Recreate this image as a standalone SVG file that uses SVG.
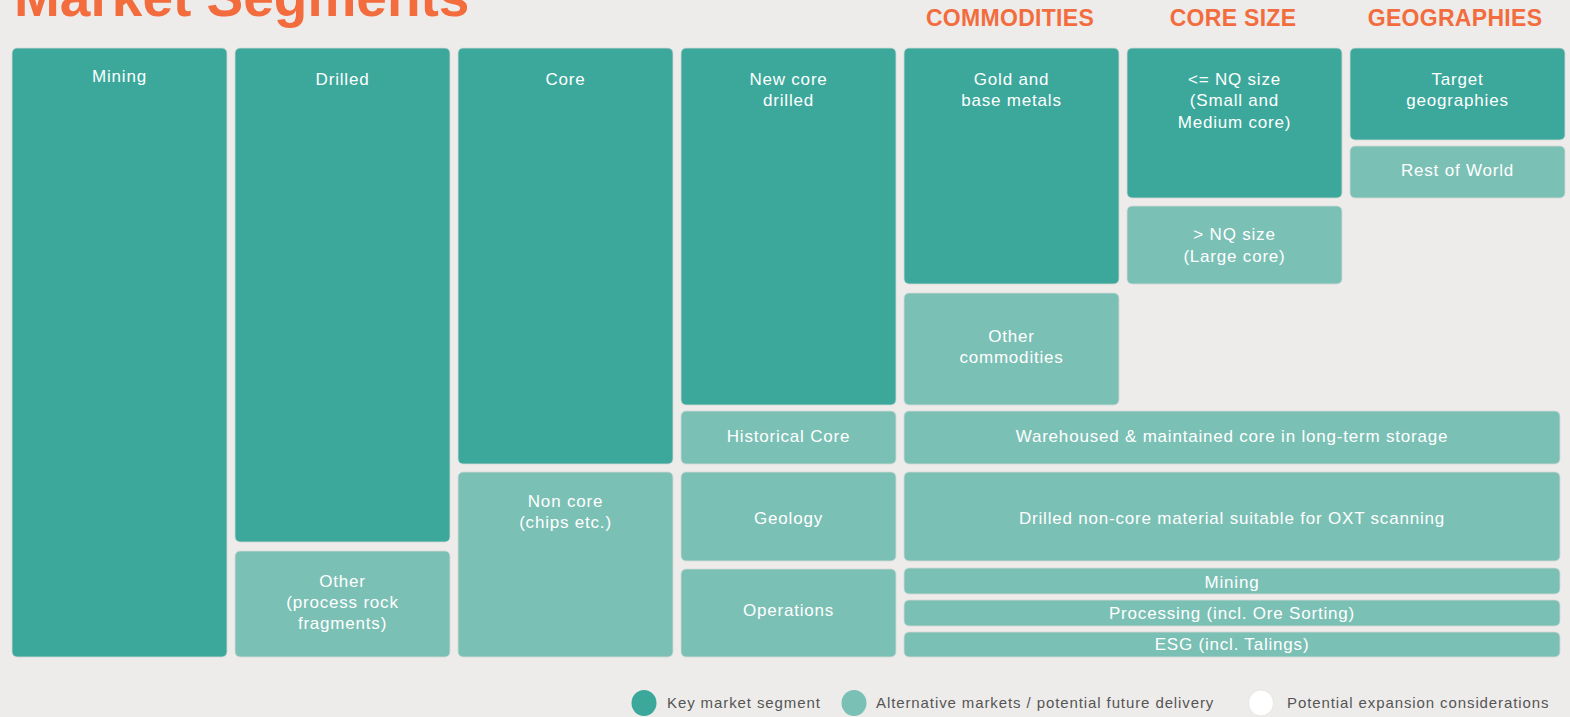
<svg xmlns="http://www.w3.org/2000/svg" width="1570" height="717" viewBox="0 0 1570 717">
<style>
.bg{fill:#EDECEA}
.k{fill:#3BA89B}
.a{fill:#7BC0B5}
.b{stroke:#D6DBD8;stroke-width:0.8}
.t{font-family:"Liberation Sans",Arial,sans-serif;font-size:17px;fill:#FFFFFF;text-anchor:middle;letter-spacing:0.8px}
.h{font-family:"Liberation Sans",Arial,sans-serif;font-size:23px;font-weight:bold;fill:#F36C3D;text-anchor:middle;letter-spacing:0.3px}
.title{font-family:"Liberation Sans",Arial,sans-serif;font-size:55px;font-weight:bold;fill:#F36C3D}
.lg{font-family:"Liberation Sans",Arial,sans-serif;font-size:15px;fill:#555555;letter-spacing:0.9px}
</style>
<rect class="bg" x="0" y="0" width="1570" height="717"/>
<text class="title" x="14" y="16">Market Segments</text>
<g id="headers">
<text class="h" x="1010" y="26">COMMODITIES</text>
<text class="h" x="1233" y="26">CORE SIZE</text>
<text class="h" x="1455" y="26">GEOGRAPHIES</text>
</g>
<g id="connectors"></g>
<g id="n-mining"><rect class="k b" x="12" y="48" width="215" height="609" rx="5"/><text class="t" x="119.5" y="82">Mining</text></g>
<g id="n-drilled"><rect class="k b" x="235" y="48" width="215" height="494" rx="5"/><text class="t" x="342.5" y="85">Drilled</text></g>
<g id="n-other"><rect class="a b" x="235" y="551" width="215" height="106" rx="5"/><text class="t" x="342.5" y="587">Other</text><text class="t" x="342.5" y="608">(process rock</text><text class="t" x="342.5" y="629">fragments)</text></g>
<g id="n-core"><rect class="k b" x="458" y="48" width="215" height="416" rx="5"/><text class="t" x="565.5" y="85">Core</text></g>
<g id="n-noncore"><rect class="a b" x="458" y="472" width="215" height="185" rx="5"/><text class="t" x="565.5" y="507">Non core</text><text class="t" x="565.5" y="528">(chips etc.)</text></g>
<g id="n-newcore"><rect class="k b" x="681" y="48" width="215" height="357" rx="5"/><text class="t" x="788.5" y="85">New core</text><text class="t" x="788.5" y="106">drilled</text></g>
<g id="n-historical"><rect class="a b" x="681" y="411" width="215" height="53" rx="5"/><text class="t" x="788.5" y="442">Historical Core</text></g>
<g id="n-geology"><rect class="a b" x="681" y="472" width="215" height="89" rx="5"/><text class="t" x="788.5" y="524">Geology</text></g>
<g id="n-operations"><rect class="a b" x="681" y="569" width="215" height="88" rx="5"/><text class="t" x="788.5" y="616">Operations</text></g>
<g id="n-gold"><rect class="k b" x="904" y="48" width="215" height="236" rx="5"/><text class="t" x="1011.5" y="85">Gold and</text><text class="t" x="1011.5" y="106">base metals</text></g>
<g id="n-othercomm"><rect class="a b" x="904" y="293" width="215" height="112" rx="5"/><text class="t" x="1011.5" y="342">Other</text><text class="t" x="1011.5" y="363">commodities</text></g>
<g id="n-nqsmall"><rect class="k b" x="1127" y="48" width="215" height="150" rx="5"/><text class="t" x="1234.5" y="85">&lt;= NQ size</text><text class="t" x="1234.5" y="106">(Small and</text><text class="t" x="1234.5" y="128">Medium core)</text></g>
<g id="n-nqlarge"><rect class="a b" x="1127" y="206" width="215" height="78" rx="5"/><text class="t" x="1234.5" y="240">&gt; NQ size</text><text class="t" x="1234.5" y="262">(Large core)</text></g>
<g id="n-target"><rect class="k b" x="1350" y="48" width="215" height="92" rx="5"/><text class="t" x="1457.5" y="85">Target</text><text class="t" x="1457.5" y="106">geographies</text></g>
<g id="n-rest"><rect class="a b" x="1350" y="146" width="215" height="52" rx="5"/><text class="t" x="1457.5" y="176">Rest of World</text></g>
<g id="n-warehoused"><rect class="a b" x="904" y="411" width="656" height="53" rx="5"/><text class="t" x="1232" y="442">Warehoused &amp; maintained core in long-term storage</text></g>
<g id="n-drillednoncore"><rect class="a b" x="904" y="472" width="656" height="89" rx="5"/><text class="t" x="1232" y="524">Drilled non-core material suitable for OXT scanning</text></g>
<g id="n-mining2"><rect class="a b" x="904" y="568" width="656" height="26" rx="5"/><text class="t" x="1232" y="588">Mining</text></g>
<g id="n-processing"><rect class="a b" x="904" y="600" width="656" height="26" rx="5"/><text class="t" x="1232" y="619">Processing (incl. Ore Sorting)</text></g>
<g id="n-esg"><rect class="a b" x="904" y="632" width="656" height="25" rx="5"/><text class="t" x="1232" y="650">ESG (incl. Talings)</text></g>
<g id="legend">
<ellipse class="k" cx="644" cy="703" rx="12.5" ry="13"/>
<text class="lg" x="667" y="708">Key market segment</text>
<ellipse class="a" cx="854" cy="703" rx="12.5" ry="13"/>
<text class="lg" x="876" y="708">Alternative markets / potential future delivery</text>
<ellipse cx="1261" cy="703" rx="12.5" ry="13" fill="#FFFFFF" stroke="#E2E2E0" stroke-width="0.8"/>
<text class="lg" x="1287" y="708">Potential expansion considerations</text>
</g>
</svg>
